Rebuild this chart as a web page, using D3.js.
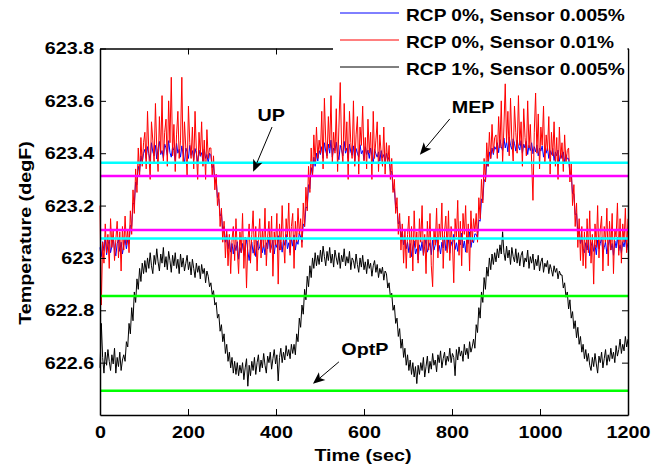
<!DOCTYPE html>
<html>
<head>
<meta charset="utf-8">
<script src="https://cdnjs.cloudflare.com/ajax/libs/d3/7.8.5/d3.min.js"></script>
<style>
  body { margin: 0; background: #fff; }
  text { font-family: "Liberation Sans", Arial, sans-serif; font-weight: bold; }
</style>
</head>
<body>
<div id="chart"></div>
<script>
// series are sampled every 3 s, values in mdegF above 623 degF
const baseTemp = 623;
const sampleSec = 3;

const blueMilli = [
  40,5,62,28,75,12,50,68,20,45,80,30,8,55,70,25,60,15,48,72,35,
  70,55,125,120,210,205,290,280,350,330,390,365,400,
  415,380,425,398,372,440,405,390,430,378,418,445,395,410,380,435,420,392,448,402,
  385,425,410,372,438,400,415,385,428,395,360,420,405,380,430,392,410,375,418,398,
  365,412,388,402,370,415,380,395,362,400,
  390,345,355,290,300,230,225,160,170,105,120,60,90,35,70,22,55,
  15,50,28,62,-5,40,20,55,10,45,70,25,-10,38,60,18,48,5,65,30,42,75,20,50,12,58,35,80,25,45,
  68,15,55,40,85,30,60,22,72,48,90,35,58,20,75,45,88,30,65,52,95,
  80,60,130,120,195,190,280,265,345,320,385,350,400,370,410,
  395,425,380,440,408,390,435,400,450,385,420,410,442,395,375,430,412,390,445,400,
  420,380,435,405,392,428,370,418,400,385,432,398,410,375,425,395,412,380,420,390,
  360,415,398,385,405,370,410,382,395,365,400,375,
  385,330,330,260,265,190,195,130,140,80,100,50,75,35,60,
  20,55,5,42,65,15,35,-8,50,28,62,10,45,72,22,40,58,12,68,30,50,80,25,48,15,60,38,85,28,52,
  70,18,62,45,90,32,58,25,78,50,95,38,65,22,80,55,100,40,70,58,92,
  90,75,145,140,225,220,300,290,370,350,405,380,420,395,425,
  415,440,402,452,425,410,458,420,445,405,462,430,415,455,438,408,450,425,412,448,
  400,435,420,445,395,430,410,440,398,425,405,432,390,420,408,428,385,415,400,422,
  380,410,395,418,372,405,390,412,368,400,380,405,365,395,378,
  380,325,320,245,245,165,170,100,115,55,80,35,
  20,58,30,70,8,45,62,25,50,12,68,35,55,78,22,40,60,15,48,72,30,55,10,65,38,80,28,50,18,62,
  42,75,30,58
];

const redMilli = [
  200,-180,60,-20,130,20,90,-40,150,40,110,-10,70,140,0,100,-50,120,30,160,50,
  110,20,180,90,260,170,340,250,420,310,460,350,440,
  480,340,560,400,300,520,450,360,590,420,330,540,400,620,370,480,530,350,600,440,
  690,390,510,330,470,560,380,450,690,360,520,420,310,580,440,380,500,340,560,410,
  300,480,390,520,350,450,300,490,380,420,
  420,310,390,260,320,200,250,120,190,60,140,0,110,-30,90,-60,70,
  120,-10,150,30,-60,100,20,170,-40,80,-115,60,130,-20,90,180,10,120,-50,70,
  150,0,110,40,190,-30,80,140,20,160,-70,100,50,170,-100,130,30,200,60,-20,
  150,80,210,10,120,170,-40,140,60,190,90,
  150,40,210,120,270,180,350,250,420,310,470,360,500,380,450,
  400,560,340,610,450,380,540,420,620,360,480,400,570,330,500,670,430,360,590,410,
  520,300,560,440,380,600,350,470,540,320,500,430,580,370,460,340,530,400,480,300,
  560,380,450,520,330,470,400,350,500,320,440,360,
  430,300,380,250,300,170,230,90,170,30,130,-20,110,-40,90,
  160,0,120,-50,180,40,100,-20,150,60,200,10,90,-60,140,30,170,-30,-110,110,
  50,190,0,130,70,210,-40,100,160,20,180,-10,120,60,-95,150,80,220,10,140,
  -30,170,90,200,20,130,-50,180,60,150,100,
  170,60,230,150,300,210,380,290,440,350,480,380,510,400,460,
  470,380,540,420,600,360,500,665,440,560,390,610,450,370,580,480,400,620,430,520,
  350,570,460,390,600,420,510,370,220,480,630,400,550,340,500,430,580,360,470,410,
  540,320,480,390,520,350,460,300,500,380,440,330,470,360,410,
  420,290,360,200,280,120,210,40,150,-10,120,-30,
  100,-40,150,20,180,-20,90,-100,130,40,200,0,110,160,-50,120,60,190,-30,140,
  30,170,-60,110,80,210,10,150,-20,130,60,190,20,150
];

const blackMilli = [
  -420,-250,-380,-440,-360,-410,-350,-395,-430,-370,-405,-345,-440,-380,-415,-360,-430,-390,
  -370,-395,-320,-340,-250,-290,-190,-240,-130,-170,-80,-120,-40,-90,-20,-60,
  -10,-55,0,-40,20,-30,-60,10,-25,35,-15,-50,15,-20,40,-35,5,-45,25,-10,
  -55,10,-30,20,-40,-5,-60,15,-35,0,-50,-20,10,-45,-15,-65,-5,-40,-75,-20,
  -55,-30,-80,-25,-60,-40,-95,-50,-70,-110,
  -95,-140,-125,-180,-170,-230,-215,-280,-255,-320,-290,-365,-330,-395,-360,-420,-380,-440,-395,-445,
  -400,-450,-410,
  -440,-400,-465,-420,-385,-490,-410,-450,-395,-430,-380,-445,-400,-370,-435,-390,-420,-365,-410,-440,
  -375,-400,-360,-425,-385,-350,-405,-370,-470,-380,-345,-400,-360,-390,-335,-375,-350,-385,-330,-365,
  -330,-370,-290,-320,-230,-265,-180,-215,-120,-160,-70,-110,-30,-75,0,-40,20,-30,10,
  -25,30,-15,45,5,-30,25,-10,40,-20,15,-35,30,0,-25,20,-40,10,-15,35,
  -30,5,-20,25,-45,0,-10,-40,15,-25,-55,0,-35,10,-45,-15,-60,-5,-40,-20,
  -70,-30,-10,-55,-25,-75,-40,-60,-35,-85,-50,
  -60,-115,-95,-150,-135,-200,-180,-250,-230,-300,-270,-345,-310,-380,-345,-410,-370,-430,-390,-445,
  -400,-455,-415,
  -480,-410,-445,-400,-430,-380,-455,-415,-375,-440,-395,-425,-365,-410,-390,-435,-370,-400,-355,-420,
  -385,-360,-410,-375,-395,-345,-400,-365,-380,-450,-350,-390,-340,-375,-355,-395,-330,-370,-345,-385,
  -320,-360,-340,
  -310,-345,-255,-285,-190,-230,-130,-170,-75,-120,-35,-70,0,-45,15,-25,20,
  -15,35,0,50,15,100,20,-10,45,0,30,-25,40,5,-15,35,-20,20,-30,10,
  25,-35,0,-15,30,-40,5,-20,15,-45,-5,-30,10,-50,-15,0,-55,-20,-35,-10,
  -60,-25,-45,-70,-30,-55,-40,-80,-50,-65,
  -65,-115,-95,-150,-130,-195,-160,-230,-205,-270,-240,-305,-265,-330,-300,-360,-330,-385,-350,-395,
  -365,-410,
  -430,-380,-415,-365,-405,-440,-375,-400,-360,-420,-385,-350,-410,-370,-395,-345,-385,-360,-400,-335,
  -375,-350,-310,-365,-330,-355,-300,-340,-310
];

const seriesNames = ["RCP 0%, Sensor 0.005%", "RCP 0%, Sensor 0.01%", "RCP 1%, Sensor 0.005%"];
const seriesColors = ["#0000ff", "#ff0000", "#000000"];

// horizontal limit lines (degF)
const limitValues = [623.364, 623.313, 623.107, 623.074, 622.855, 622.493];
const limitColors = ["#00ffff", "#ff00ff", "#ff00ff", "#00ffff", "#00ff00", "#00ff00"];

const xTicks = [0, 200, 400, 600, 800, 1000, 1200];
const yTicks = [622.6, 622.8, 623, 623.2, 623.4, 623.6, 623.8];

// annotations: label position and arrow (time, degF)
const notes = [
  { text: "UP",   at: [389, 623.546], from: [391, 623.50], to: [348, 623.329] },
  { text: "MEP",  at: [848, 623.577], from: [795, 623.531], to: [727, 623.394] },
  { text: "OptP", at: [602, 622.653], from: [543, 622.603], to: [484, 622.519] }
];

const W = 668, H = 470;
const SX = 1.16; // the original fonts are a little stretched horizontally

const x = d3.scaleLinear().domain([0, 1200]).range([100, 628]);
const y = d3.scaleLinear().domain([622.4, 623.8]).range([415, 48.5]);

const svg = d3.select("#chart").append("svg")
  .attr("width", W).attr("height", H)
  .style("display", "block");

const toPoints = arr => arr.map((v, i) => [i * sampleSec, baseTemp + v / 1000]);
const line = d3.line().x(d => x(d[0])).y(d => y(d[1]));

[blueMilli, redMilli, blackMilli].forEach((arr, k) => {
  svg.append("path")
    .datum(toPoints(arr))
    .attr("fill", "none")
    .attr("stroke", seriesColors[k])
    .attr("stroke-width", 1)
    .attr("d", line);
});

svg.append("g").selectAll("line")
  .data(limitValues)
  .join("line")
    .attr("x1", x(0)).attr("x2", x(1200))
    .attr("y1", d => y(d)).attr("y2", d => y(d))
    .attr("stroke", (d, i) => limitColors[i])
    .attr("stroke-width", 2.5);

// axes, MATLAB style box with inner ticks
function styleAxis(g) {
  g.attr("font-family", null).attr("font-size", 17).attr("font-weight", "bold");
  g.select(".domain").attr("stroke", "#000").attr("stroke-width", 1.5);
  g.selectAll(".tick line").attr("stroke", "#000").attr("stroke-width", 1);
  g.selectAll(".tick text").attr("fill", "#000").attr("transform", `scale(${SX},1)`);
}

svg.append("g").attr("transform", "translate(0,415)")
  .call(d3.axisBottom(x).tickValues(xTicks).tickSizeInner(-6).tickSizeOuter(0).tickPadding(11)
    .tickFormat(d3.format("d")))
  .call(styleAxis);
svg.append("g").attr("transform", "translate(0,48.5)")
  .call(d3.axisTop(x).tickValues(xTicks).tickSizeInner(-6).tickSizeOuter(0).tickFormat(""))
  .call(styleAxis);
svg.append("g").attr("transform", "translate(100,0)")
  .call(d3.axisLeft(y).tickValues(yTicks).tickSizeInner(-6).tickSizeOuter(0).tickPadding(5)
    .tickFormat(d => String(+d.toFixed(1))))
  .call(styleAxis);
svg.append("g").attr("transform", "translate(628,0)")
  .call(d3.axisRight(y).tickValues(yTicks).tickSizeInner(-6).tickSizeOuter(0).tickFormat(""))
  .call(styleAxis);

function label(str, px, py, opts = {}) {
  const rot = opts.rotate ? ` rotate(${opts.rotate})` : "";
  return svg.append("text")
    .attr("transform", `translate(${px},${py})${rot} scale(${SX},1)`)
    .attr("text-anchor", opts.anchor || "middle")
    .attr("font-size", opts.size || 17)
    .attr("fill", "#000")
    .text(str);
}

label("Time (sec)", 363, 461);
label("Temperature (degF)", 31, 233, { rotate: -90 });

// annotations with arrows
notes.forEach(n => {
  const x0 = x(n.from[0]), y0 = y(n.from[1]);
  const x1 = x(n.to[0]), y1 = y(n.to[1]);
  const len = Math.hypot(x1 - x0, y1 - y0);
  const ux = (x1 - x0) / len, uy = (y1 - y0) / len;
  const L = 12, Wd = 5;
  const bx = x1 - L * ux, by = y1 - L * uy;
  const nx = x1 - (L - 3) * ux, ny = y1 - (L - 3) * uy;
  svg.append("line")
    .attr("x1", x0).attr("y1", y0).attr("x2", nx).attr("y2", ny)
    .attr("stroke", "#000").attr("stroke-width", 1);
  svg.append("path")
    .attr("d", `M${x1},${y1}L${bx - Wd * uy},${by + Wd * ux}L${nx},${ny}L${bx + Wd * uy},${by - Wd * ux}Z`)
    .attr("fill", "#000");
  label(n.text, x(n.at[0]), y(n.at[1]) + 6);
});

// legend (white box, no border)
const legend = svg.append("g");
legend.append("rect")
  .attr("x", 333).attr("y", 0).attr("width", 294.5).attr("height", 80)
  .attr("fill", "#fff");
seriesNames.forEach((name, i) => {
  const ly = 13 + i * 27;
  legend.append("line")
    .attr("x1", 340).attr("x2", 399).attr("y1", ly).attr("y2", ly)
    .attr("stroke", seriesColors[i]).attr("stroke-width", 1);
  legend.append("text")
    .attr("transform", `translate(406,${ly + 8}) scale(${SX},1)`)
    .attr("font-size", 16.5)
    .attr("fill", "#000")
    .text(name);
});
</script>
</body>
</html>
